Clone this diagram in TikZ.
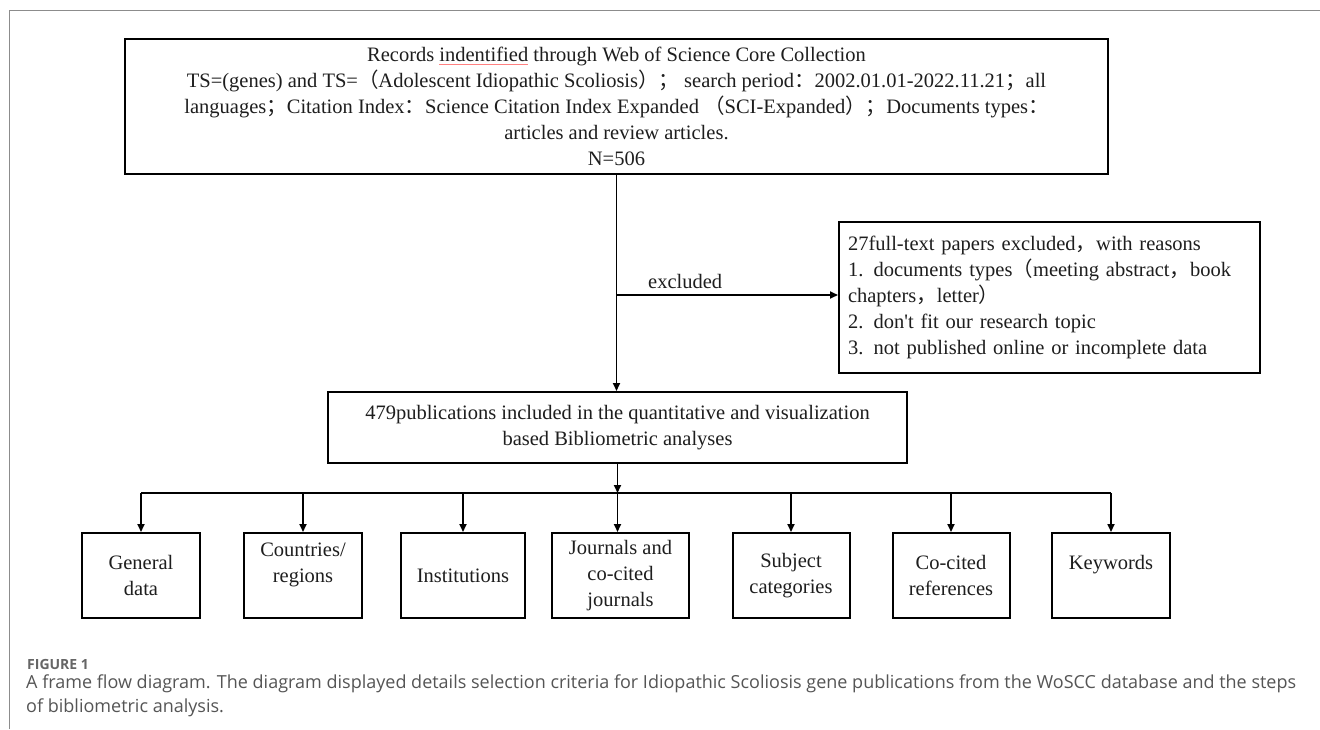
\documentclass[tikz,border=0pt]{standalone}
\usepackage{fontspec}
\setmainfont{Liberation Serif}
\newfontfamily\apos{Liberation Serif}
\newfontfamily\cjk{Noto Sans CJK SC}
\newfontfamily\capfont{Open Sans}
\usetikzlibrary{arrows.meta}
\newcommand\cj[1]{{\cjk #1}}
\newcommand\redul[1]{\setbox0\hbox{#1}\rlap{\textcolor{red!50}{\rule[-3.5pt]{\wd0}{0.8pt}}}#1}
\definecolor{txt}{HTML}{1E1E1E}
\definecolor{framegray}{HTML}{8C8C8C}
\definecolor{capgray}{HTML}{555555}
\tikzset{
  box/.style={draw=black, line width=2pt, rectangle, inner sep=0pt, text=txt,
    font=\fontsize{20.5}{26}\selectfont, align=center},
  conn/.style={draw=black, line width=1.7pt},
  arr/.style={conn, -{Triangle[length=8pt,width=7pt]}},
  lbl/.style={text=txt, font=\fontsize{20.5}{26}\selectfont, inner sep=0pt},
}
\begin{document}
\begin{tikzpicture}[x=1pt,y=-1pt]
\useasboundingbox (0,0) rectangle (1320,729);
\fill[white] (0,0) rectangle (1320,729);
% page frame
\draw[framegray, line width=1.5pt] (9.5,729) -- (9.5,10.5) -- (1320,10.5);

\node[box, minimum width=983pt, minimum height=135pt] (rec) at (616.5,106.5)
 {Records \redul{indentified} through Web of Science Core Collection\\
  TS=(genes) and TS=\cj{（}Adolescent Idiopathic Scoliosis\cj{）；} search period\cj{：}2002.01.01-2022.11.21\cj{；}all\\
  languages\cj{；}Citation Index\cj{：}Science Citation Index Expanded \cj{（}SCI-Expanded\cj{）；}Documents types\cj{：}\\
  articles and review articles.\\
  N=506};

\node[box, minimum width=421pt, minimum height=151pt, text width=403pt, align=left] (exc) at (1049.5,297.5)
 {27full-text papers excluded\cj{，}with reasons\\
  1. documents types\cj{（}meeting abstract\cj{，}book\\
  chapters\cj{，}letter\cj{）}\\
  2. don{\apos '}t fit our research topic\\
  3. not published online or incomplete data};

\node[box, minimum width=579pt, minimum height=71pt] (pub) at (617.5,427.5)
 {479publications included in the quantitative and visualization\\based Bibliometric analyses};

\node[box, minimum width=118pt, minimum height=85pt] (gen) at (141,575.5) {General\\data};
\node[box, minimum width=118pt, minimum height=85pt] (cty) at (303,575.5) {Countries/\\regions\\\mbox{}};
\node[box, minimum width=124pt, minimum height=85pt] (ins) at (463,575.5) {Institutions};
\node[box, minimum width=137pt, minimum height=85pt] (jou) at (620.5,575.5) {Journals and\\co-cited\\journals};
\node[box, minimum width=117pt, minimum height=85pt] (sub) at (791,575.5) {Subject\\categories};
\node[box, minimum width=117pt, minimum height=85pt] (coc) at (951,575.5) {Co-cited\\references};
\node[box, minimum width=118pt, minimum height=85pt] (key) at (1111,575.5) {Keywords\\\mbox{}};

% main flow
\coordinate (br) at ([yshift=-120pt]rec.south);
\draw[arr] (rec.south) -- (rec.south |- pub.north);
\draw[arr] (br) -- (br -| exc.west) node[lbl, pos=0.31, anchor=south, yshift=5pt] {excluded};

% bus
\coordinate (bus) at ([yshift=-29pt]pub.south);
\draw[arr] (pub.south) -- (bus);
\draw[conn] (gen.north |- bus) -- (key.north |- bus);
\foreach \b in {gen,cty,ins,sub,coc,key}
  \draw[arr] (\b.north |- bus) -- (\b.north);
\draw[arr] (bus) -- (bus |- jou.north);

% caption
\node[anchor=west, inner sep=0pt, text=capgray!90, font=\capfont\fontsize{14}{17}\selectfont\bfseries] (fig) at (27,664) {FIGURE 1};
\node[anchor=north west, inner sep=0pt, text=capgray, align=left, font=\capfont\fontsize{18}{23.5}\selectfont] (cap) at (26,675)
 {A frame flow diagram. The diagram displayed details selection criteria for Idiopathic Scoliosis gene publications from the WoSCC database and the steps\\of bibliometric analysis.};
\end{tikzpicture}
\end{document}
